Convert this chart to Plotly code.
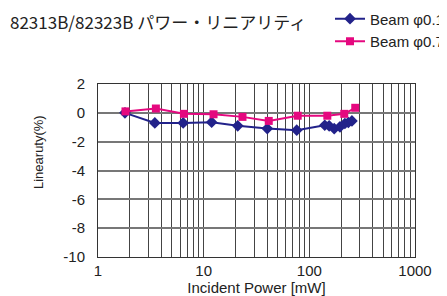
import plotly.graph_objects as go

power_01 = [1.8, 3.45, 6.4, 11.9, 21, 40, 76, 140, 154, 172, 195, 217, 234, 253]
lin_01 = [0.0, -0.7, -0.7, -0.65, -0.9, -1.09, -1.2, -0.86, -0.9, -1.1, -0.97, -0.74, -0.67, -0.56]

power_07 = [1.82, 3.53, 6.5, 12.4, 23.3, 41.3, 77.6, 148, 214, 272]
lin_07 = [0.1, 0.3, -0.07, -0.1, -0.28, -0.56, -0.2, -0.2, -0.07, 0.35]

x_tickvals = [m * 10 ** e for e in range(3) for m in range(1, 10)] + [1000]
x_ticktext = [str(v) if v in (1, 10, 100, 1000) else "" for v in x_tickvals]
y_tickvals = [2, 0, -2, -4, -6, -8, -10]
y_ticktext = ["2", "0", "-2", "-4", "-6", "-8", "-10"]

blue = "#22228a"
pink = "#e5087f"

# The page body has an 8px margin, so the figure is offset by 8px; margins compensate.
L, R, T, B = 90, 40, 76, 47
PW, PH = 447 - L - R, 296 - T - B

fig = go.Figure()
fig.add_trace(go.Scatter(x=power_01, y=lin_01, mode="lines+markers", name="Beam φ0.1",
                         line=dict(color=blue, width=2),
                         marker=dict(symbol="diamond", size=9, color=blue)))
fig.add_trace(go.Scatter(x=power_07, y=lin_07, mode="lines+markers", name="Beam φ0.7",
                         line=dict(color=pink, width=2),
                         marker=dict(symbol="square", size=8, color=pink)))

fig.update_layout(
    width=447, height=296,
    margin=dict(l=L, r=R, t=T, b=B, autoexpand=False),
    paper_bgcolor="white", plot_bgcolor="white",
    font=dict(family="Liberation Sans, Arial", size=15, color="#222"),
    showlegend=True,
    legend=dict(x=(322 - L) / PW, y=(296 - B + 5.6) / PH,
                xanchor="left", yanchor="top",
                bgcolor="rgba(0,0,0,0)", font=dict(size=15, family="Liberation Sans, Arial"),
                tracegroupgap=0),
    annotations=[
        dict(text="82313B/82323B パワー・リニアリティ", xref="paper", yref="paper",
             x=(0 - L) / PW, y=(296 - B - 13) / PH, xanchor="left", yanchor="middle",
             showarrow=False,
             font=dict(family="Noto Sans CJK JP", size=17, color="#222")),
        dict(text="Linearuty(%)", xref="paper", yref="paper", textangle=-90,
             x=(30 - L) / PW, y=(296 - B - 144) / PH, xanchor="center", yanchor="middle",
             showarrow=False,
             font=dict(family="Liberation Sans, Arial", size=13, color="#222")),
    ],
)
fig.update_xaxes(type="log", range=[0, 3], tickvals=x_tickvals, ticktext=x_ticktext,
                 showgrid=True, gridcolor="#444", gridwidth=1, ticks="", tickfont=dict(size=15),
                 showline=True, linecolor="#333", linewidth=1, mirror=True, zeroline=False,
                 automargin=False, ticklabelstandoff=0,
                 title=dict(text="Incident Power [mW]", font=dict(size=15), standoff=4))
fig.update_yaxes(range=[-10, 2], tickvals=y_tickvals, ticktext=y_ticktext,
                 showgrid=True, gridcolor="#777", gridwidth=1.5,
                 ticks="", tickfont=dict(size=15), zeroline=False, automargin=False,
                 ticklabelstandoff=9,
                 showline=True, linecolor="#333", linewidth=1, mirror=True)

fig.write_html("out.html")
